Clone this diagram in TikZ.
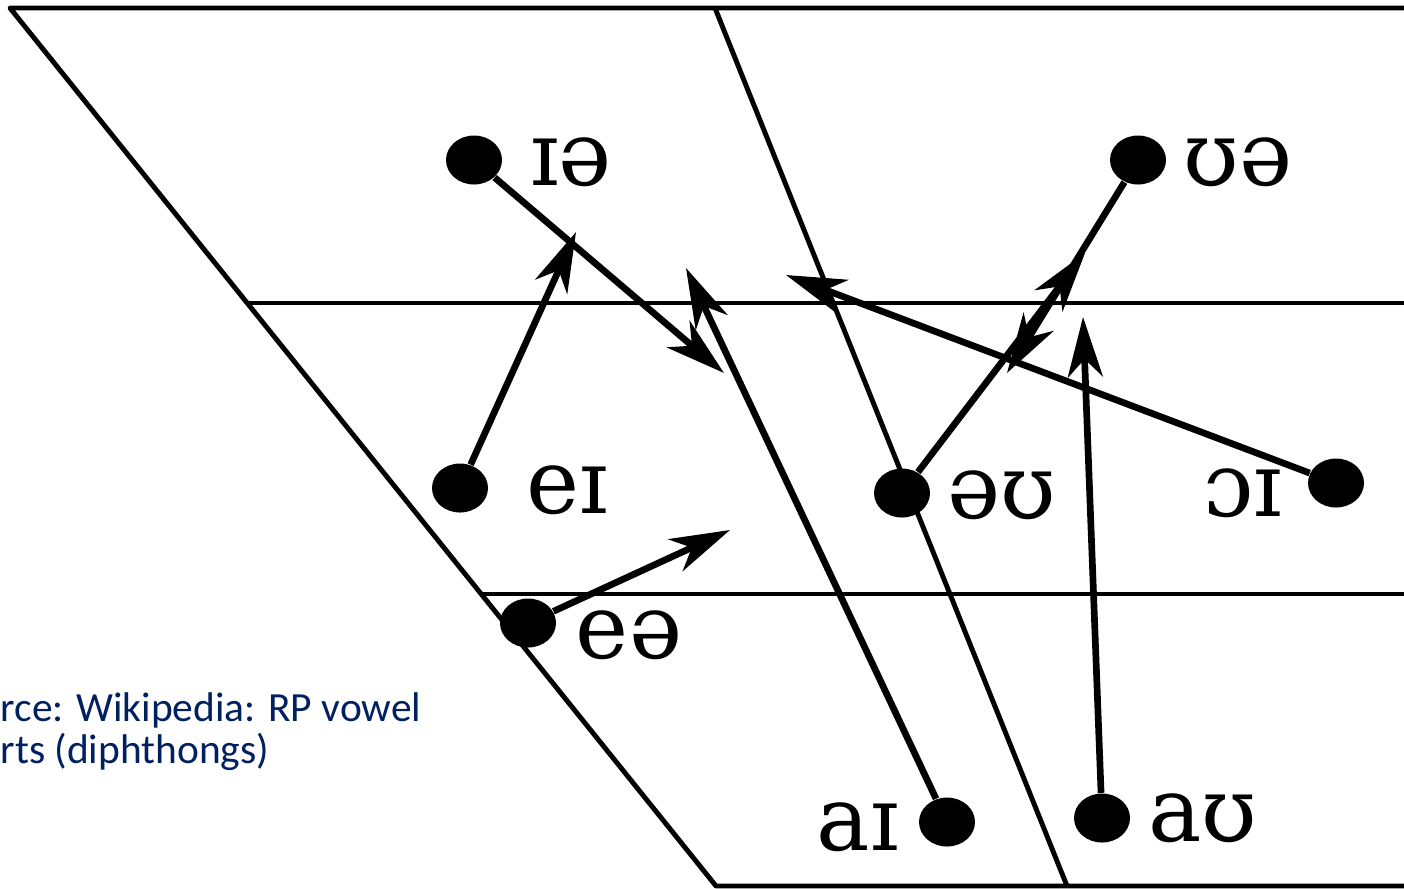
\documentclass[tikz,border=0pt]{standalone}
\usepackage{fontspec}
\setmainfont{DejaVu Serif}
\newfontfamily\srcfont{Carlito}
\usetikzlibrary{arrows.meta,shapes.geometric}
\definecolor{srcblue}{RGB}{0,32,96}

\begin{document}
\begin{tikzpicture}[
    vdot/.style={ellipse, fill=black, minimum width=5.6mm, minimum height=4.9mm, inner sep=0pt},
    vowel/.style={font=\fontsize{25.5}{28}\selectfont, inner sep=0pt},
    glide/.style={line width=1.9pt, -{Stealth[length=6mm, width=3.5mm, inset=1.8mm]}},
    chart/.style={line width=1.4pt, line join=round},
    source/.style={font=\srcfont\fontsize{11.8}{12}\selectfont, text=srcblue, anchor=base west, inner sep=0pt}
]
    \useasboundingbox (0,0) rectangle (14.04,-8.88);

    % chart frame
    \coordinate (tl) at (0.10,-0.08);
    \coordinate (bl) at (7.16,-8.86);
    \coordinate (tm) at (7.15,-0.08);
    \coordinate (bm) at (10.67,-8.86);
    \draw[chart] (14.1,-0.08) -- (tl) -- (bl) -- (14.1,-8.86);
    \draw[chart] (tm) -- (bm);
    \draw[chart] (2.47,-3.03) -- (14.1,-3.03);
    \draw[chart] (4.81,-5.94) -- (14.1,-5.94);

    % start points of the diphthongs
    \node[vdot] (ia) at (4.74,-1.60) {};
    \node[vdot] (ua) at (11.38,-1.60) {};
    \node[vdot] (ei) at (4.60,-4.88) {};
    \node[vdot] (ou) at (9.02,-4.93) {};
    \node[vdot] (oi) at (13.36,-4.83) {};
    \node[vdot] (ea) at (5.28,-6.23) {};
    \node[vdot] (ai) at (9.47,-8.22) {};
    \node[vdot] (au) at (11.02,-8.18) {};

    % symbols
    \node[vowel] (ia-l) at (5.71,-1.62) {ɪə};
    \node[vowel] (ua-l) at (12.38,-1.62) {ʊə};
    \node[vowel] (ei-l) at (5.67,-4.90) {eɪ};
    \node[vowel] (ou-l) at (10.02,-4.95) {əʊ};
    \node[vowel] (oi-l) at (12.43,-4.93) {ɔɪ};
    \node[vowel] (ea-l) at (6.29,-6.35) {eə};
    \node[vowel] (ai-l) at (8.58,-8.27) {aɪ};
    \node[vowel] (au-l) at (12.03,-8.18) {aʊ};

    % glides
    \coordinate (ia-tip) at (7.24,-3.73);
    \coordinate (ua-tip) at (10.07,-3.73);
    \coordinate (ei-tip) at (5.76,-2.32);
    \coordinate (ou-tip) at (10.85,-2.53);
    \coordinate (oi-tip) at (7.86,-2.75);
    \coordinate (ea-tip) at (7.30,-5.30);
    \coordinate (ai-tip) at (6.86,-2.68);
    \coordinate (au-tip) at (10.83,-3.17);
    \draw[glide] (ia) -- (ia-tip);
    \draw[glide] (ua) -- (ua-tip);
    \draw[glide] (ei) -- (ei-tip);
    \draw[glide] (ou) -- (ou-tip);
    \draw[glide] (oi) -- (oi-tip);
    \draw[glide] (ea) -- (ea-tip);
    \draw[glide] (ai) -- (ai-tip);
    \draw[glide] (au) -- (au-tip);

    % source note
    \node[source] (src1) at (0,-7.21) {rce: Wikipedia: RP vowel};
    \node[source] (src2) at (0,-7.63) {rts (diphthongs)};
\end{tikzpicture}
\end{document}
